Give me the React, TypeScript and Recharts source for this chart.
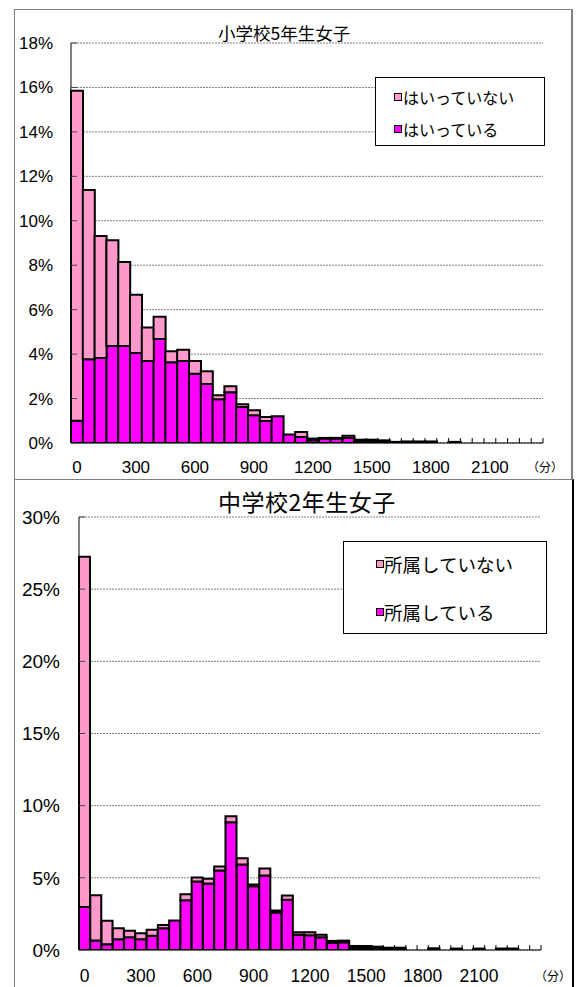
import React from 'react';
import { BarChart, Bar, XAxis, YAxis, CartesianGrid, Legend } from 'recharts';

const NUM_FONT = '"Liberation Sans", Arial, "Noto Sans CJK JP", sans-serif';
const JP_FONT = '"Noto Sans CJK JP", "Liberation Sans", sans-serif';

const PINK = '#FF99CC';
const MAGENTA = '#FF00FF';

// ---- 小学校5年生女子 (minutes per week, bins of 60) ----
const elemMinutes = [
  0, 60, 120, 180, 240, 300, 360, 420, 480, 540,
  600, 660, 720, 780, 840, 900, 960, 1020, 1080, 1140,
  1200, 1260, 1320, 1380, 1440, 1500, 1560, 1620, 1680, 1740,
  1800, 1860, 1920, 1980, 2040, 2100, 2160, 2220, 2280, 2340,
];
const elemInClub = [
  1.0, 3.77, 3.82, 4.36, 4.36, 4.05, 3.69, 4.68, 3.63, 3.69,
  3.12, 2.66, 1.97, 2.28, 1.62, 1.25, 0.99, 1.2, 0.38, 0.27,
  0.12, 0.2, 0.2, 0.23, 0.1, 0.1, 0.08, 0.03, 0.04, 0.04,
  0.04, 0, 0.03, 0, 0, 0, 0, 0, 0, 0,
];
const elemNotInClub = [
  14.85, 7.61, 5.49, 4.76, 3.79, 2.62, 1.51, 1.0, 0.5, 0.51,
  0.57, 0.57, 0.18, 0.27, 0.12, 0.22, 0.18, 0, 0, 0.23,
  0.08, 0.03, 0.03, 0.1, 0.05, 0.05, 0.04, 0.02, 0.03, 0.03,
  0.03, 0, 0.02, 0, 0, 0, 0, 0, 0, 0,
];
const elemYTicks = [0, 2, 4, 6, 8, 10, 12, 14, 16, 18];
const elemTitle = '小学校5年生女子';
const elemNames = { inClub: 'はいっている', notInClub: 'はいっていない' };

// ---- 中学校2年生女子 ----
const juniorMinutes = [
  0, 60, 120, 180, 240, 300, 360, 420, 480, 540,
  600, 660, 720, 780, 840, 900, 960, 1020, 1080, 1140,
  1200, 1260, 1320, 1380, 1440, 1500, 1560, 1620, 1680, 1740,
  1800, 1860, 1920, 1980, 2040, 2100, 2160, 2220, 2280, 2340,
  2400,
];
const juniorInClub = [
  2.98, 0.65, 0.4, 0.74, 0.88, 0.74, 0.98, 1.51, 2.05, 3.44,
  4.74, 4.6, 5.5, 8.85, 5.92, 4.42, 5.16, 2.6, 3.49, 1.05,
  1.02, 0.88, 0.51, 0.53, 0.16, 0.14, 0.12, 0.08, 0.08, 0,
  0, 0.05, 0, 0.05, 0, 0.05, 0, 0.05, 0.05, 0,
  0,
];
const juniorNotInClub = [
  24.27, 3.14, 1.62, 0.77, 0.45, 0.42, 0.42, 0.23, 0, 0.42,
  0.28, 0.33, 0.28, 0.42, 0.44, 0.12, 0.48, 0.14, 0.28, 0.18,
  0.21, 0.17, 0.12, 0.12, 0.12, 0.14, 0.11, 0.08, 0.08, 0,
  0, 0.07, 0, 0.05, 0, 0.05, 0, 0.05, 0.05, 0,
  0,
];
const juniorYTicks = [0, 5, 10, 15, 20, 25, 30];
const juniorTitle = '中学校2年生女子';
const juniorNames = { inClub: '所属している', notInClub: '所属していない' };

const xTickLabels = [0, 300, 600, 900, 1200, 1500, 1800, 2100];
const unitLabel = '（分）';
const legendOrder = ['notInClub', 'inClub'];

const elemData = elemMinutes.map((m, i) => ({ minute: m, inClub: elemInClub[i], notInClub: elemNotInClub[i] }));
const juniorData = juniorMinutes.map((m, i) => ({ minute: m, inClub: juniorInClub[i], notInClub: juniorNotInClub[i] }));

const makeXTick = (count: number, fontSize: number, labelOffset: number) => (props: any) => {
  const { x, y, payload, index } = props;
  const half = payload && typeof payload.offset === 'number' ? payload.offset : 0;
  const value = payload ? Number(payload.value) : 0;
  return (
    <g>
      <line x1={x - half} x2={x - half} y1={y} y2={y - 5} stroke="#000" strokeWidth={1} />
      {index === count - 1 && (
        <line x1={x + half} x2={x + half} y1={y} y2={y - 5} stroke="#000" strokeWidth={1} />
      )}
      {xTickLabels.includes(value) && (
        <text
          x={x}
          y={y + labelOffset}
          textAnchor="middle"
          dominantBaseline="central"
          fontSize={fontSize}
          fontFamily={NUM_FONT}
          fill="#000"
        >
          {value}
        </text>
      )}
    </g>
  );
};

const makeLegend = (opts: {
  fontSize: number;
  rows: number[];
  markerLeft: number;
  textLeft: number;
}) => (props: any) => {
  const items = [...(props.payload || [])].sort(
    (a: any, b: any) => legendOrder.indexOf(String(a.dataKey)) - legendOrder.indexOf(String(b.dataKey)),
  );
  return (
    <div style={{ position: 'relative', width: '100%', height: '100%' }}>
      {items.map((it: any, i: number) => (
        <div
          key={String(it.value)}
          style={{
            position: 'absolute',
            left: 0,
            top: opts.rows[i] - opts.fontSize / 2 - 2,
            height: opts.fontSize + 4,
            width: '100%',
          }}
        >
          <span
            style={{
              position: 'absolute',
              left: opts.markerLeft,
              top: (opts.fontSize + 4) / 2 - 4,
              width: 8,
              height: 8,
              boxSizing: 'border-box',
              border: '1.5px solid #000',
              background: it.color,
            }}
          />
          <span
            style={{
              position: 'absolute',
              left: opts.textLeft,
              top: 0,
              lineHeight: `${opts.fontSize + 4}px`,
              fontSize: opts.fontSize,
              fontFamily: JP_FONT,
              color: '#000',
              whiteSpace: 'nowrap',
            }}
          >
            {it.value}
          </span>
        </div>
      ))}
    </div>
  );
};

export default function App() {
  return (
    <div
      style={{
        position: 'absolute',
        left: 0,
        top: 0,
        width: 579,
        height: 987,
        background: '#fff',
        overflow: 'hidden',
      }}
    >
      {/* panel frames */}
      <div
        style={{
          position: 'absolute',
          left: 14,
          top: 9,
          width: 559,
          height: 471,
          boxSizing: 'border-box',
          border: '1px solid #808080',
          borderRight: '2px solid #808080',
        }}
      />
      <div
        style={{
          position: 'absolute',
          left: 14,
          top: 479,
          width: 560,
          height: 520,
          boxSizing: 'border-box',
          borderLeft: '1px solid #808080',
          borderTop: '1px solid #808080',
          borderRight: '2px solid #000',
        }}
      />

      {/* top chart */}
      <div style={{ position: 'absolute', left: 0, top: 0 }}>
        <BarChart
          width={579}
          height={479}
          data={elemData}
          margin={{ top: 43, right: 36, bottom: 0, left: 0 }}
          barCategoryGap={0}
          barGap={0}
        >
          <CartesianGrid horizontal vertical={false} stroke="#808080" strokeDasharray="2 1" />
          <XAxis
            dataKey="minute"
            height={36}
            interval={0}
            tickLine={false}
            tickSize={0}
            tickMargin={0}
            axisLine={{ stroke: '#000' }}
            tick={makeXTick(elemMinutes.length, 17, 24)}
          />
          <YAxis
            width={71}
            domain={[0, 18]}
            ticks={elemYTicks}
            interval={0}
            allowDataOverflow
            tickFormatter={(v: number) => `${v}%`}
            tickSize={-6}
            tickMargin={24}
            tickLine={{ stroke: '#444' }}
            axisLine={{ stroke: '#000' }}
            tick={{ fontSize: 17, fill: '#000', fontFamily: NUM_FONT }}
          />
          <Bar dataKey="inClub" name={elemNames.inClub} stackId="s" fill={MAGENTA} stroke="#000" strokeWidth={2} isAnimationActive={false} />
          <Bar dataKey="notInClub" name={elemNames.notInClub} stackId="s" fill={PINK} stroke="#000" strokeWidth={2} isAnimationActive={false} />
          <Legend
            layout="vertical"
            align="center"
            verticalAlign="middle"
            wrapperStyle={{
              left: 375,
              top: 77,
              width: 170,
              height: 69,
              boxSizing: 'border-box',
              border: '1px solid #000',
              background: '#fff',
            }}
            content={makeLegend({ fontSize: 16, rows: [19, 51], markerLeft: 18, textLeft: 27 })}
          />
        </BarChart>
      </div>

      {/* bottom chart */}
      <div style={{ position: 'absolute', left: 0, top: 479 }}>
        <BarChart
          width={579}
          height={508}
          data={juniorData}
          margin={{ top: 38, right: 38, bottom: 0, left: 0 }}
          barCategoryGap={0}
          barGap={0}
        >
          <CartesianGrid horizontal vertical={false} stroke="#808080" strokeDasharray="2 1" />
          <XAxis
            dataKey="minute"
            height={37}
            interval={0}
            tickLine={false}
            tickSize={0}
            tickMargin={0}
            axisLine={{ stroke: '#000' }}
            tick={makeXTick(juniorMinutes.length, 17.5, 26)}
          />
          <YAxis
            width={79}
            domain={[0, 30]}
            ticks={juniorYTicks}
            interval={0}
            allowDataOverflow
            tickFormatter={(v: number) => `${v}%`}
            tickSize={-6}
            tickMargin={25}
            tickLine={{ stroke: '#444' }}
            axisLine={{ stroke: '#000' }}
            tick={{ fontSize: 19, fill: '#000', fontFamily: NUM_FONT }}
          />
          <Bar dataKey="inClub" name={juniorNames.inClub} stackId="s" fill={MAGENTA} stroke="#000" strokeWidth={2} isAnimationActive={false} />
          <Bar dataKey="notInClub" name={juniorNames.notInClub} stackId="s" fill={PINK} stroke="#000" strokeWidth={2} isAnimationActive={false} />
          <Legend
            layout="vertical"
            align="center"
            verticalAlign="middle"
            wrapperStyle={{
              left: 343,
              top: 62,
              width: 204,
              height: 93,
              boxSizing: 'border-box',
              border: '1px solid #000',
              background: '#fff',
            }}
            content={makeLegend({ fontSize: 18.5, rows: [22, 70], markerLeft: 32, textLeft: 40 })}
          />
        </BarChart>
      </div>

      {/* titles */}
      <div
        style={{
          position: 'absolute',
          left: 218,
          top: 24,
          fontSize: 17.5,
          lineHeight: '18px',
          fontFamily: JP_FONT,
          color: '#000',
          whiteSpace: 'nowrap',
        }}
      >
        {elemTitle}
      </div>
      <div
        style={{
          position: 'absolute',
          left: 218,
          top: 490,
          fontSize: 23,
          lineHeight: '23px',
          fontFamily: JP_FONT,
          color: '#000',
          whiteSpace: 'nowrap',
          letterSpacing: 0.5,
        }}
      >
        {juniorTitle}
      </div>

      {/* unit labels */}
      <div
        style={{
          position: 'absolute',
          left: 527,
          top: 460,
          fontSize: 12,
          lineHeight: '14px',
          fontFamily: JP_FONT,
          color: '#000',
          whiteSpace: 'nowrap',
        }}
      >
        {unitLabel}
      </div>
      <div
        style={{
          position: 'absolute',
          left: 535,
          top: 969,
          fontSize: 12,
          lineHeight: '14px',
          fontFamily: JP_FONT,
          color: '#000',
          whiteSpace: 'nowrap',
        }}
      >
        {unitLabel}
      </div>
    </div>
  );
}
